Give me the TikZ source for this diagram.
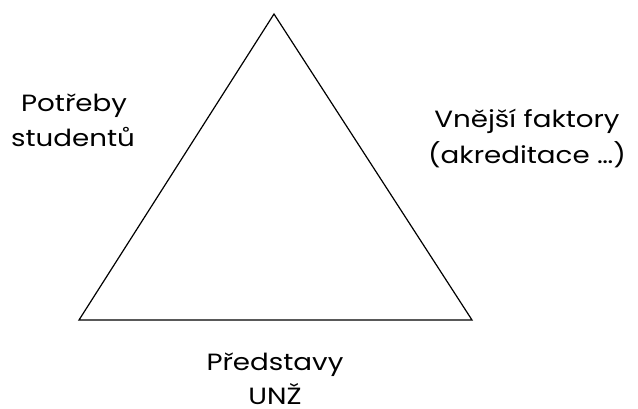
\documentclass[tikz,border=0pt]{standalone}
\usepackage{fontspec}
\setmainfont[FakeStretch=1.18]{Poppins}
\begin{document}
\begin{tikzpicture}[x=1pt,y=-1pt,
  lbl/.style={anchor=base,font=\fontsize{23.5}{35}\selectfont,inner sep=0pt}]
\useasboundingbox (0,0) rectangle (638,408);
\coordinate (apex) at (274,14);
\coordinate (bl) at (79,320);
\coordinate (br) at (472,320);
\draw[line width=1.2pt,line join=miter] (apex) -- (br) -- (bl) -- cycle;
% left side label
\node[lbl] (needsA) at (74,111) {Potřeby};
\node[lbl] (needsB) at (73,146) {studentů};
% right side label
\node[lbl] (extA) at (527,127) {Vnější faktory};
\node[lbl] (extB) at (527,163) {(akreditace …)};
% bottom label
\node[lbl] (ideasA) at (275,370) {Představy};
\node[lbl,text depth=0pt] (ideasB) at (275,404) {UNŽ};
\end{tikzpicture}
\end{document}
